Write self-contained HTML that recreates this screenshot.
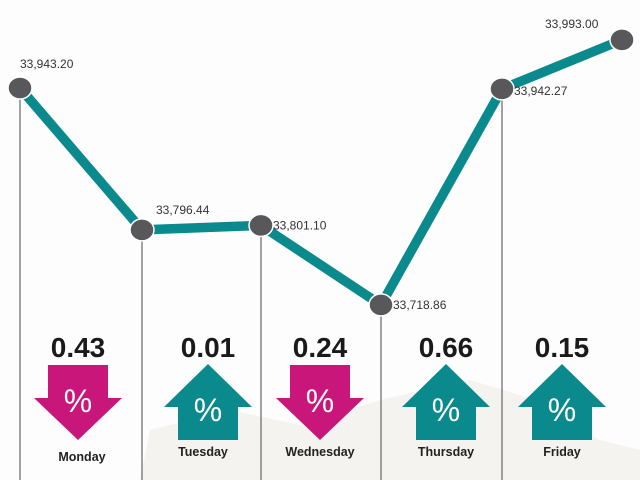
<!DOCTYPE html>
<html><head><meta charset="utf-8"><style>
body{margin:0;background:#fff;}
svg{display:block;font-family:"Liberation Sans",sans-serif;}
</style></head><body>
<svg id="c" width="640" height="480" viewBox="0 0 640 480">
<rect x="0" y="0" width="640" height="480" fill="#fdfdfd"/>
<path d="M140 480 L150 430 L230 410 L300 425 L380 400 L470 380 L520 395 L600 440 L640 450 L640 480 Z" fill="#f5f3ef"/>
<g id="grid"></g><g id="line"></g><g id="dots"></g><g id="bottom"></g>
</svg>
<script>
const pointLabels=["33,943.20","33,796.44","33,801.10","33,718.86","33,942.27","33,993.00"];
const values=[33943.20,33796.44,33801.10,33718.86,33942.27,33993.00];
const days=["Monday","Tuesday","Wednesday","Thursday","Friday"];
const changes=["0.43","0.01","0.24","0.66","0.15"];
const directions=["down","up","down","up","up"];
const NS="http://www.w3.org/2000/svg";
const xs=[20,142,261,381,502,622];
function x(i){return xs[i];}
function y(v){return 88+(33943.2-v)*0.967;}
function mk(t,a,p){const e=document.createElementNS(NS,t);for(const k in a)e.setAttribute(k,a[k]);p.appendChild(e);return e;}
const grid=document.getElementById('grid'),line=document.getElementById('line'),dots=document.getElementById('dots'),bottom=document.getElementById('bottom');
values.forEach((v,i)=>{
  if(i<5){const g=mk('line',{x1:x(i),y1:y(v),x2:x(i),y2:480,stroke:'#666','stroke-width':1.2},grid);
  
  }
});
const pl=mk('polyline',{points:values.map((v,i)=>x(i)+','+y(v)).join(' '),fill:'none',stroke:'#0b8a8e','stroke-width':9.5,'stroke-linejoin':'round'},line);


const lo=[[0,-20,'start'],[14,-16,'start'],[12,4,'start'],[12,4,'start'],[12,6,'start'],[-77,-12,'start']];
values.forEach((v,i)=>{
  const c=mk('ellipse',{cx:x(i),cy:y(v),rx:12,ry:11,fill:'#58585b',stroke:'#fff','stroke-width':1.5},dots);
  
  
  const t=mk('text',{x:x(i)+lo[i][0],y:y(v)+lo[i][1],'font-size':12,fill:'#333'},dots);
  t.textContent=pointLabels[i];
  
  
});
const centers=[78,208,320,446,562];
days.forEach((d,i)=>{
  const cx=centers[i];
  const n=mk('text',{x:cx,y:357,'font-size':28,'font-weight':'bold','text-anchor':'middle',fill:'#1a1a1a'},bottom);
  n.textContent=changes[i];
  
  
  let pts,col,py;
  if(directions[i]==='down'){col='#c8167b';pts=[[cx-30,365],[cx+30,365],[cx+30,398],[cx+44,398],[cx,440],[cx-44,398],[cx-30,398]];py=412;}
  else{col='#0b8a8e';pts=[[cx,364],[cx+44,407],[cx+30,407],[cx+30,440],[cx-30,440],[cx-30,407],[cx-44,407]];py=421;}
  const a=mk('polygon',{points:pts.map(p=>p.join(',')).join(' '),fill:col},bottom);
  
  
  const p=mk('text',{x:cx,y:py,'font-size':32,'text-anchor':'middle',fill:'#fff'},bottom);
  p.textContent='%';
  
  
  const l=mk('text',{x:cx+(i==0?4:i==1?-5:0),y:i==0?461:456,'font-size':12.5,'font-weight':'bold','text-anchor':'middle',fill:'#222'},bottom);
  l.textContent=d;
  
  
});
</script>
</body></html>
